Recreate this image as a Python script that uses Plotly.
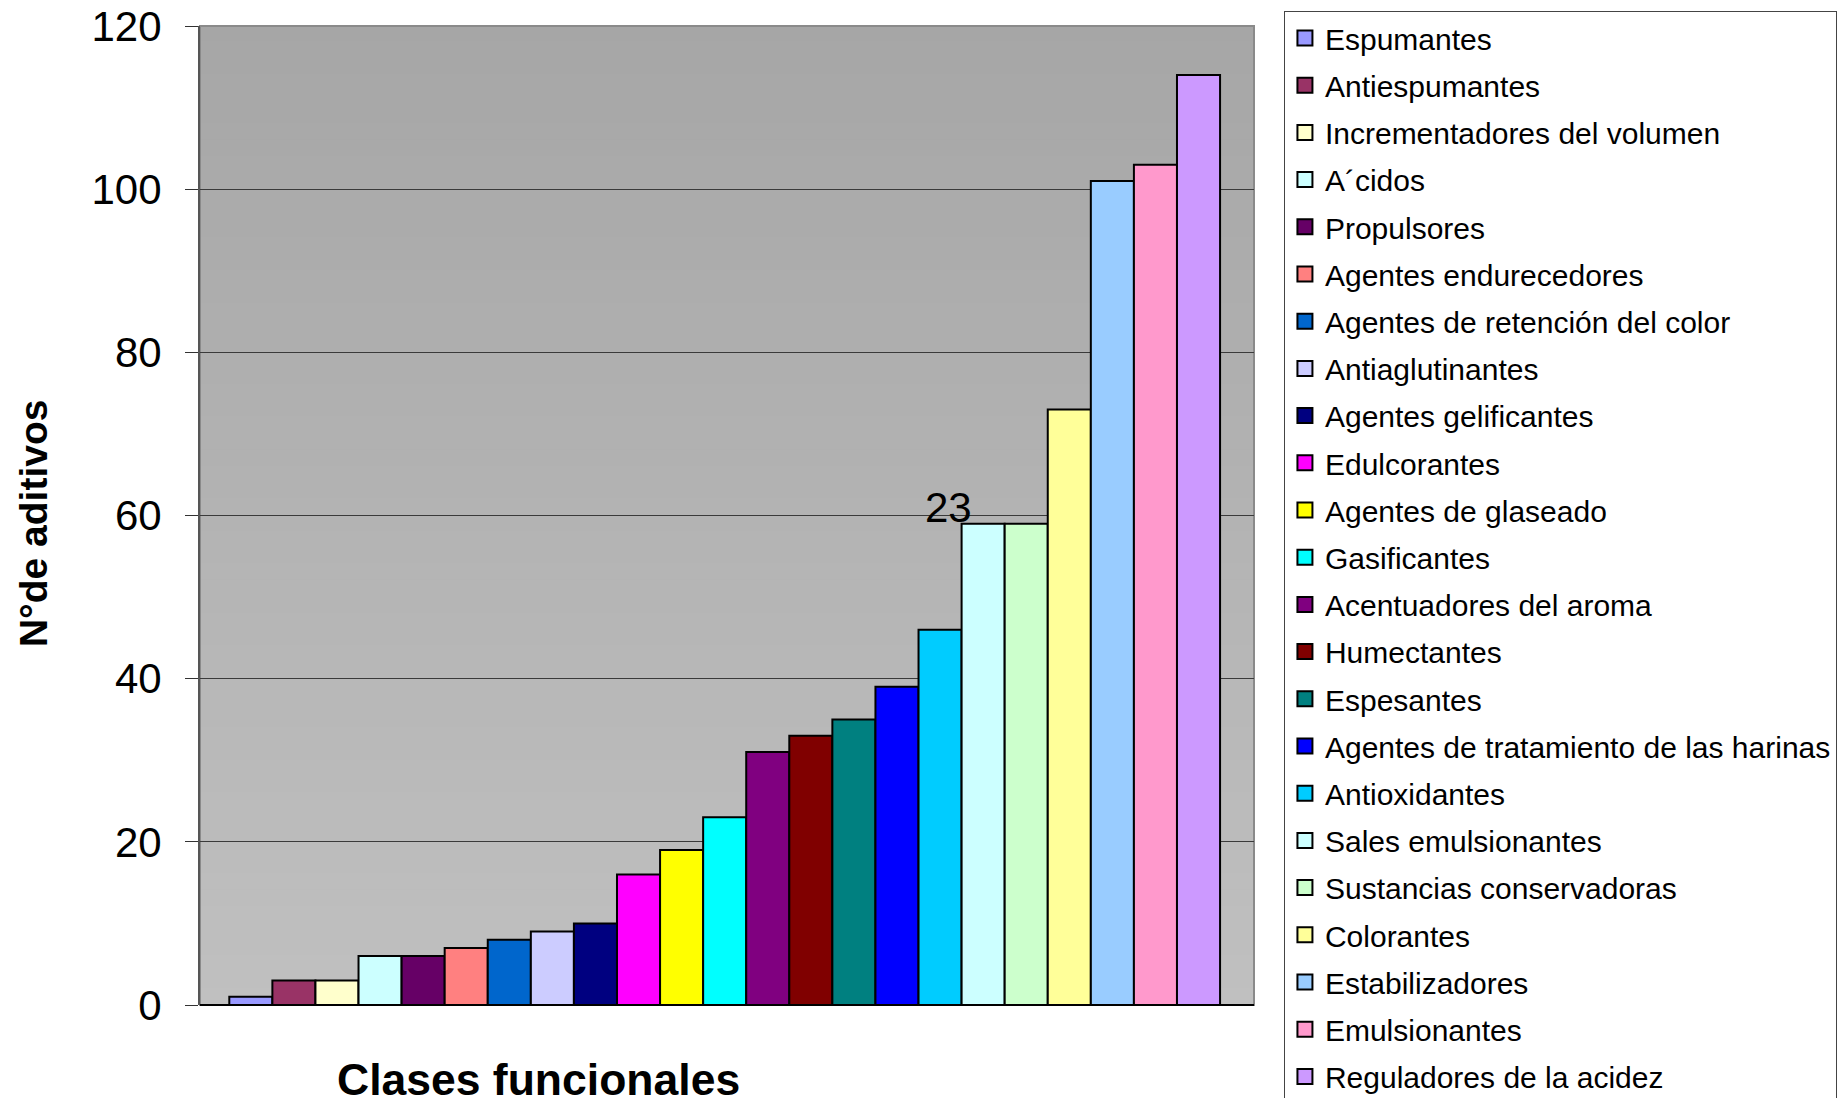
import plotly.graph_objects as go

categories = [
    "Espumantes", "Antiespumantes", "Incrementadores del volumen", "A´cidos",
    "Propulsores", "Agentes endurecedores", "Agentes de retención del color",
    "Antiaglutinantes", "Agentes gelificantes", "Edulcorantes",
    "Agentes de glaseado", "Gasificantes", "Acentuadores del aroma",
    "Humectantes", "Espesantes", "Agentes de tratamiento de las harinas",
    "Antioxidantes", "Sales emulsionantes", "Sustancias conservadoras",
    "Colorantes", "Estabilizadores", "Emulsionantes", "Reguladores de la acidez",
]
values = [1, 3, 3, 6, 6, 7, 8, 9, 10, 16, 19, 23, 31, 33, 35, 39, 46, 59, 59, 73, 101, 103, 114]
colors = [
    "#9999FF", "#993366", "#FFFFCC", "#CCFFFF", "#660066", "#FF8080", "#0066CC",
    "#CCCCFF", "#000080", "#FF00FF", "#FFFF00", "#00FFFF", "#800080", "#800000",
    "#008080", "#0000FF", "#00CCFF", "#CCFFFF", "#CCFFCC", "#FFFF99", "#99CCFF",
    "#FF99CC", "#CC99FF",
]
y_ticks = [0, 20, 40, 60, 80, 100, 120]
x_title = "Clases funcionales"
y_title = "N°de aditivos"
note_text = "23"

FONT = "Liberation Sans, Arial, sans-serif"

fig = go.Figure()
for name, v, c in zip(categories, values, colors):
    fig.add_trace(go.Bar(
        x=[""], y=[v], name=name, marker=dict(color=c, line=dict(color="black", width=2)),
        showlegend=False, hoverinfo="y+name",
    ))
# legend entries (square swatches)
for name, c in zip(categories, colors):
    fig.add_trace(go.Scatter(
        x=[None], y=[None], mode="markers", name=name, legendgroup=name,
        marker=dict(symbol="square", size=15, color=c, line=dict(color="black", width=2)),
    ))

# gradient plot background
n = 60
top = (166, 166, 166)
bot = (192, 192, 192)
for i in range(n):
    t = (i + 0.5) / n
    col = tuple(round(top[k] + (bot[k] - top[k]) * t) for k in range(3))
    fig.add_shape(type="rect", xref="x domain", yref="y domain",
                  x0=0, x1=1, y0=1 - (i + 1) / n, y1=1 - i / n + 0.001,
                  fillcolor="rgb(%d,%d,%d)" % col, line=dict(width=0), layer="below")
# plot border
fig.add_shape(type="rect", xref="x domain", yref="y domain", x0=0, x1=1, y0=0, y1=1,
              line=dict(color="#8a8a8a", width=2), layer="below")

fig.update_layout(
    width=1841, height=1098,
    margin=dict(l=200, r=587, t=26, b=93, autoexpand=False),
    paper_bgcolor="white", plot_bgcolor="#b3b3b3",
    barmode="group", bargap=0.06, bargroupgap=0,
    font=dict(family=FONT, color="black"),
    showlegend=True,
    legend=dict(
        x=1.0284, y=1.0153, xanchor="left", yanchor="top",
        bgcolor="white", bordercolor="#444444", borderwidth=1,
        font=dict(family=FONT, size=30, color="black"),
        tracegroupgap=5.2, traceorder="grouped", maxheight=3000,
    ),
    xaxis=dict(
        showticklabels=False, showgrid=False, zeroline=False,
        range=[-0.4978, 0.5022], showline=False, fixedrange=True,
    ),
    yaxis=dict(
        range=[0, 120], tickvals=y_ticks, ticks="outside", ticklen=13,
        tickcolor="#333333", tickwidth=1,
        tickfont=dict(family=FONT, size=42, color="black"),
        showgrid=True, gridcolor="#3a3a3a", gridwidth=1,
        showline=True, linecolor="#555555", linewidth=2,
        zeroline=True, zerolinecolor="black", zerolinewidth=2,
        ticklabelstandoff=15,
    ),
    annotations=[
        dict(text=x_title, xref="paper", yref="paper", x=0.3209, y=-0.0766,
             xanchor="center", yanchor="middle", showarrow=False,
             font=dict(family=FONT, size=44.5, color="black", weight="bold")),
        dict(text=y_title, xref="paper", yref="paper", x=-0.1584, y=0.4913,
             xanchor="center", yanchor="middle", showarrow=False, textangle=-90,
             font=dict(family=FONT, size=39, color="black", weight="bold")),
        dict(text=note_text, xref="paper", yref="y", x=0.7098, y=61.0,
             xanchor="center", yanchor="middle", showarrow=False,
             font=dict(family=FONT, size=42, color="black")),
    ],
)

fig.write_html("out.html")
